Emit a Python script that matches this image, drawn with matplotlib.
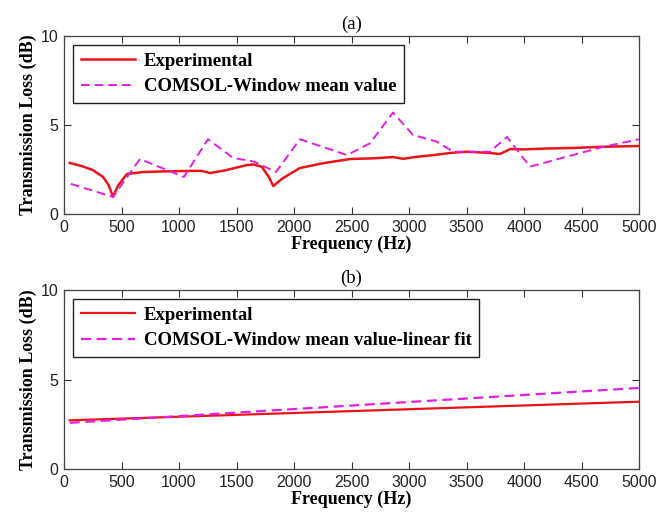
import numpy as np
import matplotlib.pyplot as plt

# (a) measured transmission loss
exp_f = [50, 150, 250, 340, 390, 426, 470, 548, 690, 900, 1100, 1200, 1270, 1400,
         1590, 1650, 1720, 1780, 1820, 1900, 2050, 2250, 2490, 2700, 2860, 2950,
         3050, 3200, 3360, 3500, 3700, 3790, 3880, 4000, 4200, 4430, 4700, 5000]
exp_tl = [2.87, 2.7, 2.47, 2.08, 1.6, 0.96, 1.6, 2.25, 2.36, 2.4, 2.42, 2.42, 2.3, 2.45,
          2.75, 2.78, 2.65, 2.1, 1.57, 2.0, 2.58, 2.85, 3.09, 3.13, 3.2, 3.1,
          3.2, 3.3, 3.43, 3.5, 3.43, 3.37, 3.65, 3.63, 3.68, 3.71, 3.78, 3.82]

# (a) COMSOL window mean value
com_f = [60, 426, 660, 1043, 1252, 1470, 1650, 1843, 2052, 2461, 2661, 2861,
         3035, 3243, 3383, 3704, 3852, 4052, 4687, 5000]
com_tl = [1.69, 0.96, 3.09, 2.08, 4.2, 3.15, 2.95, 2.36, 4.2, 3.31, 3.97, 5.7,
          4.44, 4.06, 3.5, 3.5, 4.33, 2.66, 3.77, 4.2]

# (b) linear fits
fit_f = [50, 5000]
exp_fit = [2.72, 3.76]
com_fit = [2.58, 4.53]

red = '#e8141a'
mag = '#e21ee2'

plt.rcParams['font.family'] = ['Liberation Sans', 'DejaVu Sans']
serif = 'Liberation Serif'

fig = plt.figure(figsize=(6.69, 5.17), dpi=100)
ax1 = fig.add_axes([64 / 669, 1 - 214 / 517, 575 / 669, 178 / 517])
ax2 = fig.add_axes([64 / 669, 1 - 469 / 517, 575 / 669, 179 / 517])


def style(ax, title):
    ax.set_xlim(0, 5000)
    ax.set_ylim(0, 10)
    ax.set_xticks(np.arange(0, 5001, 500))
    ax.set_yticks([0, 5, 10])
    ax.tick_params(direction='in', length=5, width=0.8, top=True, right=True,
                   labelsize=11.5, colors='#333333', labelcolor='#222222', pad=4)
    for s in ax.spines.values():
        s.set_color('#444444')
        s.set_linewidth(0.9)
    ax.set_xlabel('Frequency (Hz)', family=serif, fontweight='bold', fontsize=13,
                  labelpad=1)
    ax.set_ylabel('Transmission Loss (dB)', family=serif, fontweight='bold',
                  fontsize=13, labelpad=3)
    ax.set_title(title, family=serif, fontsize=13.5, pad=5)
    leg = ax.legend(loc='upper left', bbox_to_anchor=(0.016, 0.95), borderaxespad=0,
                    fancybox=False, framealpha=1, edgecolor='#222222',
                    handlelength=2.9, handletextpad=0.45, labelspacing=0.45,
                    borderpad=0.4, prop={'family': serif, 'weight': 'bold', 'size': 13.5})
    leg.get_frame().set_linewidth(1.0)


ax1.plot(exp_f, exp_tl, color=red, lw=1.8, label='Experimental')
ax1.plot(com_f, com_tl, color=mag, lw=1.4, ls=(0, (4.5, 2.5)),
         label='COMSOL-Window mean value')
style(ax1, '(a)')

ax2.plot(fit_f, exp_fit, color=red, lw=1.6, label='Experimental')
ax2.plot(fit_f, com_fit, color=mag, lw=1.6, ls=(0, (4.5, 2.5)),
         label='COMSOL-Window mean value-linear fit')
style(ax2, '(b)')

fig.savefig('out.png', dpi=100)
